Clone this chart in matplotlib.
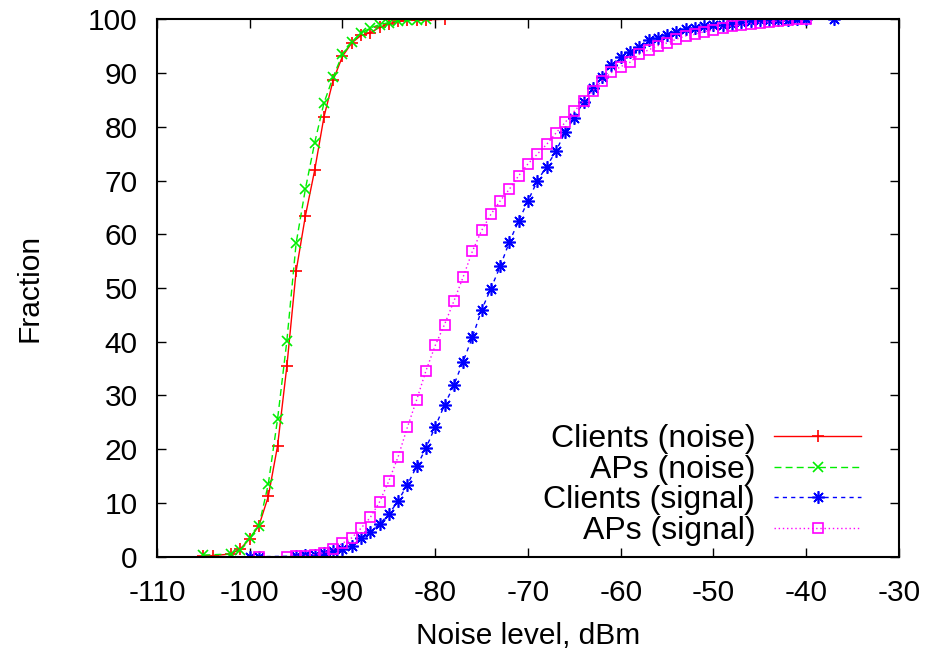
import matplotlib
matplotlib.use("Agg")
import matplotlib.pyplot as plt

# Clients (noise)
cn_x = [-105, -104, -102, -101, -100, -99, -98, -97, -96, -95, -94, -93, -92, -91,
        -90, -89, -88, -87, -86, -85, -84, -83, -82, -81, -79]
cn_y = [0.2, 0.2, 0.5, 1.5, 3.3, 5.8, 11.2, 20.6, 35.4, 53.1, 63.4, 71.9, 81.8, 88.7,
        93.1, 95.6, 97.0, 97.5, 98.5, 99.2, 99.6, 99.8, 99.8, 99.9, 100]

# APs (noise)
an_x = [-105, -102, -101, -100, -99, -98, -97, -96, -95, -94, -93, -92, -91, -90,
        -89, -88, -87, -86, -85, -84, -83, -82, -81]
an_y = [0.3, 0.5, 1.3, 3.5, 5.8, 13.5, 25.6, 40.1, 58.3, 68.4, 77.0, 84.4, 89.3, 93.5,
        95.7, 97.4, 98.4, 99.0, 99.4, 99.7, 99.8, 99.9, 100]

# Clients (signal)
cs_x = [-100, -99, -95, -94, -93, -92, -91, -90, -89, -88, -87, -86, -85, -84, -83,
        -82, -81, -80, -79, -78, -77, -76, -75, -74, -73, -72, -71, -70, -69, -68,
        -67, -66, -65, -64, -63, -62, -61, -60, -59, -58, -57, -56, -55, -54, -53,
        -52, -51, -50, -49, -48, -47, -46, -45, -44, -43, -42, -41, -40, -37]
cs_y = [0.0, 0.0, 0.1, 0.3, 0.3, 0.6, 1.0, 1.5, 2.0, 3.4, 4.5, 6.1, 7.9, 10.4, 13.4,
        16.8, 20.2, 24.2, 28.2, 31.9, 36.3, 40.8, 45.9, 49.9, 54.0, 58.6, 62.5, 66.2,
        69.9, 72.6, 75.4, 79.0, 81.7, 84.7, 87.2, 89.3, 91.5, 92.9, 94.0, 94.9, 96.1,
        96.5, 97.1, 97.6, 98.2, 98.4, 98.8, 99.0, 99.0, 99.2, 99.5, 99.7, 99.8, 99.9,
        99.9, 99.95, 100, 100, 100]

# APs (signal)
as_x = [-99, -96, -95, -94, -93, -92, -91, -90, -89, -88, -87, -86, -85, -84, -83,
        -82, -81, -80, -79, -78, -77, -76, -75, -74, -73, -72, -71, -70, -69, -68,
        -67, -66, -65, -64, -63, -62, -61, -60, -59, -58, -57, -56, -55, -54, -53,
        -52, -51, -50, -49, -48, -47, -46, -45, -44, -43, -42, -41, -40]
as_y = [0.0, 0.0, 0.05, 0.2, 0.4, 0.7, 1.4, 2.5, 3.5, 5.3, 7.3, 10.2, 14.1, 18.6, 24.1,
        29.2, 34.6, 39.3, 43.2, 47.5, 52.0, 56.8, 60.7, 63.7, 66.2, 68.4, 70.9, 73.1,
        74.9, 76.7, 78.8, 80.8, 82.9, 84.8, 86.7, 88.6, 90.1, 91.2, 92.0, 93.5, 94.3,
        95.1, 95.6, 96.3, 96.9, 97.2, 97.7, 98.0, 98.4, 98.8, 98.9, 99.2, 99.4, 99.5,
        99.7, 99.8, 100, 100]

plt.rcParams['font.family'] = ['Liberation Sans', 'DejaVu Sans']
plt.rcParams['font.size'] = 21.5
plt.rcParams['axes.unicode_minus'] = False

fig = plt.figure(figsize=(9.25, 6.56), dpi=100)
ax = fig.add_axes([0.1697, 0.1514, 0.8022, 0.8192])

ax.plot(cn_x, cn_y, color='#ff0000', lw=1.0, ls='-', marker='+', ms=9, mew=1.2,
        label='Clients (noise)')
ax.plot(an_x, an_y, color='#00ee00', lw=1.0, ls=(0, (5, 3)), marker='x', ms=7, mew=1.2,
        label='APs (noise)')
ax.plot(cs_x, cs_y, color='#0000ff', lw=1.0, ls=(0, (3, 3)), marker=(8, 2, 0), ms=9,
        mew=1.2, label='Clients (signal)')
ax.plot(as_x, as_y, color='#ff00ff', lw=1.0, ls=(0, (1, 2)), marker='s', ms=7,
        mfc='none', mew=1.2, label='APs (signal)')

ax.set_xlim(-110, -30)
ax.set_ylim(0, 100)
ax.set_xticks(range(-110, -29, 10))
ax.set_yticks(range(0, 101, 10))
ax.tick_params(direction='in', length=6.5, width=1, top=True, right=True)
ax.tick_params(axis='y', pad=14)
ax.tick_params(axis='x', pad=16)
for s in ax.spines.values():
    s.set_linewidth(1.5)

ax.set_xlabel('Noise level, dBm', labelpad=11)
ax.set_ylabel('Fraction', labelpad=32)

ax.legend(loc='lower right', bbox_to_anchor=(0.972, -0.013), frameon=False,
          markerfirst=False, handlelength=2.7, handletextpad=0.6,
          labelspacing=0.02, borderaxespad=0.15, fontsize=23)

fig.savefig('out.png', dpi=100)
